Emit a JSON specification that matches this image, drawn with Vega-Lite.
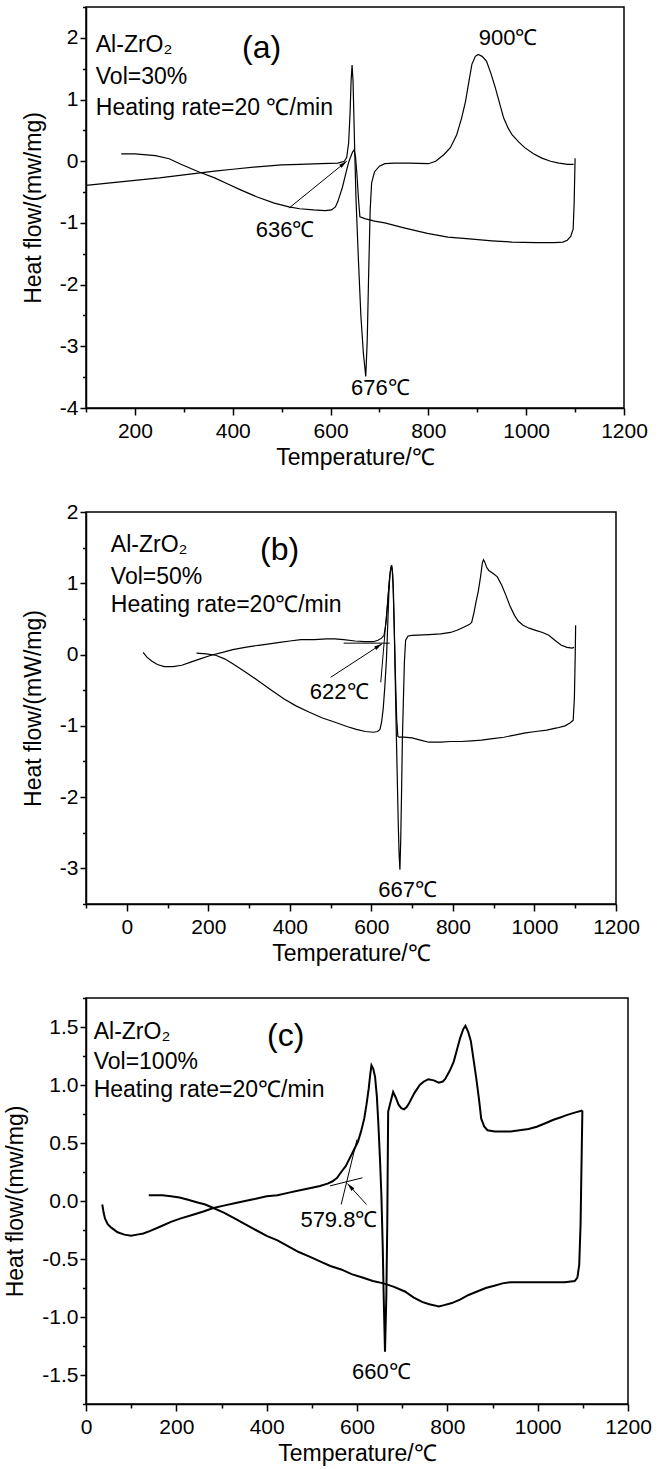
{
  "$schema": "https://vega.github.io/schema/vega-lite/v6.json",
  "background": "white",
  "padding": {"left": 4, "top": 5, "right": 5, "bottom": 0},
  "spacing": 30,
  "config": {
    "font": "Liberation Sans",
    "view": {"stroke": "black", "strokeWidth": 1.5},
    "axis": {
      "grid": false, "domainColor": "black", "domainWidth": 1.5, "tickColor": "black", "tickWidth": 1.5,
      "labelFont": "Liberation Sans", "labelFontSize": 21, "labelColor": "black", "labelFlush": false, "labelOverlap": false,
      "titleFont": "Liberation Sans", "titleFontSize": 23, "titleFontWeight": "normal", "titleColor": "black"
    },
    "text": {"font": "Liberation Sans", "color": "black"}
  },
  "datasets": {
    "a_curves": [
      {"s":"B","i":0,"x":100,"y":-0.39},{"s":"B","i":1,"x":150,"y":-0.35},{"s":"B","i":2,"x":200,"y":-0.31},{"s":"B","i":3,"x":250,"y":-0.27},{"s":"B","i":4,"x":300,"y":-0.22},{"s":"B","i":5,"x":363,"y":-0.16},{"s":"B","i":6,"x":400,"y":-0.13},{"s":"B","i":7,"x":450,"y":-0.09},{"s":"B","i":8,"x":500,"y":-0.06},{"s":"B","i":9,"x":537,"y":-0.05},{"s":"B","i":10,"x":580,"y":-0.04},{"s":"B","i":11,"x":615,"y":-0.03},{"s":"B","i":12,"x":628,"y":0.0},{"s":"B","i":13,"x":633,"y":0.06},{"s":"B","i":14,"x":637,"y":0.3},{"s":"B","i":15,"x":640,"y":0.8},{"s":"B","i":16,"x":642,"y":1.3},{"s":"B","i":17,"x":644,"y":1.56},{"s":"B","i":18,"x":646,"y":1.3},{"s":"B","i":19,"x":649,"y":0.3},{"s":"B","i":20,"x":652,"y":-0.6},{"s":"B","i":21,"x":657,"y":-1.6},{"s":"B","i":22,"x":662,"y":-2.5},{"s":"B","i":23,"x":667,"y":-3.1},{"s":"B","i":24,"x":672,"y":-3.49},{"s":"B","i":25,"x":675,"y":-2.9},{"s":"B","i":26,"x":678,"y":-1.8},{"s":"B","i":27,"x":681,"y":-0.8},{"s":"B","i":28,"x":684,"y":-0.35},{"s":"B","i":29,"x":690,"y":-0.17},{"s":"B","i":30,"x":700,"y":-0.08},{"s":"B","i":31,"x":711,"y":-0.04},{"s":"B","i":32,"x":730,"y":-0.03},{"s":"B","i":33,"x":760,"y":-0.03},{"s":"B","i":34,"x":800,"y":-0.04},{"s":"B","i":35,"x":815,"y":0.0},{"s":"B","i":36,"x":832,"y":0.11},{"s":"B","i":37,"x":845,"y":0.22},{"s":"B","i":38,"x":858,"y":0.43},{"s":"B","i":39,"x":868,"y":0.7},{"s":"B","i":40,"x":876,"y":0.97},{"s":"B","i":41,"x":883,"y":1.3},{"s":"B","i":42,"x":889,"y":1.57},{"s":"B","i":43,"x":896,"y":1.7},{"s":"B","i":44,"x":902,"y":1.73},{"s":"B","i":45,"x":910,"y":1.7},{"s":"B","i":46,"x":919,"y":1.62},{"s":"B","i":47,"x":928,"y":1.42},{"s":"B","i":48,"x":937,"y":1.19},{"s":"B","i":49,"x":946,"y":0.93},{"s":"B","i":50,"x":954,"y":0.7},{"s":"B","i":51,"x":963,"y":0.54},{"s":"B","i":52,"x":971,"y":0.43},{"s":"B","i":53,"x":985,"y":0.31},{"s":"B","i":54,"x":997,"y":0.22},{"s":"B","i":55,"x":1015,"y":0.12},{"s":"B","i":56,"x":1032,"y":0.05},{"s":"B","i":57,"x":1050,"y":0.0},{"s":"B","i":58,"x":1067,"y":-0.03},{"s":"B","i":59,"x":1085,"y":-0.05},{"s":"B","i":60,"x":1097,"y":-0.05},
      {"s":"A","i":0,"x":172,"y":0.12},{"s":"A","i":1,"x":200,"y":0.12},{"s":"A","i":2,"x":242,"y":0.09},{"s":"A","i":3,"x":270,"y":0.04},{"s":"A","i":4,"x":294,"y":-0.05},{"s":"A","i":5,"x":330,"y":-0.17},{"s":"A","i":6,"x":363,"y":-0.27},{"s":"A","i":7,"x":390,"y":-0.37},{"s":"A","i":8,"x":415,"y":-0.46},{"s":"A","i":9,"x":450,"y":-0.58},{"s":"A","i":10,"x":485,"y":-0.68},{"s":"A","i":11,"x":515,"y":-0.74},{"s":"A","i":12,"x":537,"y":-0.77},{"s":"A","i":13,"x":565,"y":-0.79},{"s":"A","i":14,"x":589,"y":-0.8},{"s":"A","i":15,"x":602,"y":-0.79},{"s":"A","i":16,"x":610,"y":-0.74},{"s":"A","i":17,"x":615,"y":-0.65},{"s":"A","i":18,"x":620,"y":-0.53},{"s":"A","i":19,"x":624,"y":-0.43},{"s":"A","i":20,"x":629,"y":-0.27},{"s":"A","i":21,"x":633,"y":-0.14},{"s":"A","i":22,"x":637,"y":-0.02},{"s":"A","i":23,"x":641,"y":0.07},{"s":"A","i":24,"x":645,"y":0.15},{"s":"A","i":25,"x":648,"y":0.18},{"s":"A","i":26,"x":651,"y":0.08},{"s":"A","i":27,"x":654,"y":-0.22},{"s":"A","i":28,"x":657,"y":-0.6},{"s":"A","i":29,"x":660,"y":-0.9},{"s":"A","i":30,"x":670,"y":-0.93},{"s":"A","i":31,"x":690,"y":-0.97},{"s":"A","i":32,"x":711,"y":-1.0},{"s":"A","i":33,"x":750,"y":-1.08},{"s":"A","i":34,"x":798,"y":-1.17},{"s":"A","i":35,"x":840,"y":-1.23},{"s":"A","i":36,"x":884,"y":-1.26},{"s":"A","i":37,"x":930,"y":-1.29},{"s":"A","i":38,"x":971,"y":-1.31},{"s":"A","i":39,"x":1020,"y":-1.32},{"s":"A","i":40,"x":1058,"y":-1.32},{"s":"A","i":41,"x":1075,"y":-1.31},{"s":"A","i":42,"x":1084,"y":-1.28},{"s":"A","i":43,"x":1091,"y":-1.22},{"s":"A","i":44,"x":1096,"y":-1.1},{"s":"A","i":45,"x":1098,"y":-0.7},{"s":"A","i":46,"x":1100,"y":0.05}
    ],
    "b_curves": [
      {"s":"B1","i":0,"x":40,"y":0.03},{"s":"B1","i":1,"x":50,"y":-0.04},{"s":"B1","i":2,"x":61,"y":-0.09},{"s":"B1","i":3,"x":75,"y":-0.14},{"s":"B1","i":4,"x":92,"y":-0.17},{"s":"B1","i":5,"x":113,"y":-0.17},{"s":"B1","i":6,"x":135,"y":-0.15},{"s":"B1","i":7,"x":155,"y":-0.11},{"s":"B1","i":8,"x":180,"y":-0.06},{"s":"B1","i":9,"x":207,"y":-0.01},{"s":"B1","i":10,"x":235,"y":0.03},{"s":"B1","i":11,"x":260,"y":0.07},{"s":"B1","i":12,"x":290,"y":0.1},{"s":"B1","i":13,"x":323,"y":0.13},{"s":"B1","i":14,"x":350,"y":0.15},{"s":"B1","i":15,"x":375,"y":0.17},{"s":"B1","i":16,"x":400,"y":0.19},{"s":"B1","i":17,"x":427,"y":0.21},{"s":"B1","i":18,"x":460,"y":0.21},{"s":"B1","i":19,"x":490,"y":0.22},{"s":"B1","i":20,"x":510,"y":0.22},{"s":"B1","i":21,"x":532,"y":0.21},{"s":"B1","i":22,"x":560,"y":0.19},{"s":"B1","i":23,"x":584,"y":0.18},{"s":"B1","i":24,"x":605,"y":0.18},{"s":"B1","i":25,"x":616,"y":0.2},{"s":"B1","i":26,"x":625,"y":0.23},{"s":"B1","i":27,"x":631,"y":0.27},{"s":"B1","i":28,"x":636,"y":0.45},{"s":"B1","i":29,"x":639,"y":0.65},{"s":"B1","i":30,"x":642,"y":0.88},{"s":"B1","i":31,"x":645,"y":1.1},{"s":"B1","i":32,"x":648,"y":1.22},{"s":"B1","i":33,"x":650,"y":1.24},{"s":"B1","i":34,"x":652,"y":1.15},{"s":"B1","i":35,"x":654,"y":0.9},{"s":"B1","i":36,"x":656,"y":0.4},{"s":"B1","i":37,"x":658,"y":-0.2},{"s":"B1","i":38,"x":660,"y":-0.8},{"s":"B1","i":39,"x":663,"y":-1.6},{"s":"B1","i":40,"x":666,"y":-2.4},{"s":"B1","i":41,"x":668,"y":-2.8},{"s":"B1","i":42,"x":670,"y":-3.02},{"s":"B1","i":43,"x":672,"y":-2.6},{"s":"B1","i":44,"x":674,"y":-1.94},{"s":"B1","i":45,"x":676,"y":-1.2},{"s":"B1","i":46,"x":679,"y":-0.53},{"s":"B1","i":47,"x":681,"y":-0.1},{"s":"B1","i":48,"x":684,"y":0.2},{"s":"B1","i":49,"x":690,"y":0.26},{"s":"B1","i":50,"x":700,"y":0.27},{"s":"B1","i":51,"x":741,"y":0.28},{"s":"B1","i":52,"x":770,"y":0.29},{"s":"B1","i":53,"x":794,"y":0.31},{"s":"B1","i":54,"x":810,"y":0.34},{"s":"B1","i":55,"x":825,"y":0.38},{"s":"B1","i":56,"x":840,"y":0.42},{"s":"B1","i":57,"x":846,"y":0.45},{"s":"B1","i":58,"x":852,"y":0.6},{"s":"B1","i":59,"x":857,"y":0.75},{"s":"B1","i":60,"x":862,"y":0.88},{"s":"B1","i":61,"x":868,"y":1.1},{"s":"B1","i":62,"x":872,"y":1.28},{"s":"B1","i":63,"x":875,"y":1.33},{"s":"B1","i":64,"x":878,"y":1.3},{"s":"B1","i":65,"x":883,"y":1.22},{"s":"B1","i":66,"x":888,"y":1.18},{"s":"B1","i":67,"x":898,"y":1.14},{"s":"B1","i":68,"x":909,"y":1.09},{"s":"B1","i":69,"x":920,"y":0.97},{"s":"B1","i":70,"x":930,"y":0.83},{"s":"B1","i":71,"x":940,"y":0.68},{"s":"B1","i":72,"x":951,"y":0.55},{"s":"B1","i":73,"x":960,"y":0.47},{"s":"B1","i":74,"x":972,"y":0.41},{"s":"B1","i":75,"x":987,"y":0.37},{"s":"B1","i":76,"x":1003,"y":0.34},{"s":"B1","i":77,"x":1020,"y":0.31},{"s":"B1","i":78,"x":1035,"y":0.27},{"s":"B1","i":79,"x":1050,"y":0.2},{"s":"B1","i":80,"x":1066,"y":0.13},{"s":"B1","i":81,"x":1080,"y":0.1},{"s":"B1","i":82,"x":1092,"y":0.09},{"s":"B1","i":83,"x":1097,"y":0.1},
      {"s":"B2","i":0,"x":171,"y":0.02},{"s":"B2","i":1,"x":195,"y":0.01},{"s":"B2","i":2,"x":218,"y":-0.01},{"s":"B2","i":3,"x":240,"y":-0.06},{"s":"B2","i":4,"x":260,"y":-0.13},{"s":"B2","i":5,"x":290,"y":-0.24},{"s":"B2","i":6,"x":323,"y":-0.37},{"s":"B2","i":7,"x":355,"y":-0.5},{"s":"B2","i":8,"x":385,"y":-0.62},{"s":"B2","i":9,"x":415,"y":-0.72},{"s":"B2","i":10,"x":448,"y":-0.81},{"s":"B2","i":11,"x":480,"y":-0.89},{"s":"B2","i":12,"x":511,"y":-0.95},{"s":"B2","i":13,"x":540,"y":-1.01},{"s":"B2","i":14,"x":563,"y":-1.05},{"s":"B2","i":15,"x":585,"y":-1.08},{"s":"B2","i":16,"x":605,"y":-1.09},{"s":"B2","i":17,"x":615,"y":-1.08},{"s":"B2","i":18,"x":621,"y":-1.05},{"s":"B2","i":19,"x":625,"y":-0.95},{"s":"B2","i":20,"x":629,"y":-0.76},{"s":"B2","i":21,"x":633,"y":-0.45},{"s":"B2","i":22,"x":637,"y":-0.06},{"s":"B2","i":23,"x":640,"y":0.4},{"s":"B2","i":24,"x":643,"y":0.88},{"s":"B2","i":25,"x":646,"y":1.15},{"s":"B2","i":26,"x":649,"y":1.25},{"s":"B2","i":27,"x":651,"y":1.2},{"s":"B2","i":28,"x":653,"y":1.0},{"s":"B2","i":29,"x":656,"y":0.4},{"s":"B2","i":30,"x":659,"y":-0.3},{"s":"B2","i":31,"x":662,"y":-0.9},{"s":"B2","i":32,"x":665,"y":-1.15},{"s":"B2","i":33,"x":668,"y":-1.16},{"s":"B2","i":34,"x":680,"y":-1.16},{"s":"B2","i":35,"x":700,"y":-1.17},{"s":"B2","i":36,"x":720,"y":-1.2},{"s":"B2","i":37,"x":741,"y":-1.23},{"s":"B2","i":38,"x":770,"y":-1.23},{"s":"B2","i":39,"x":794,"y":-1.22},{"s":"B2","i":40,"x":820,"y":-1.22},{"s":"B2","i":41,"x":846,"y":-1.21},{"s":"B2","i":42,"x":870,"y":-1.2},{"s":"B2","i":43,"x":898,"y":-1.18},{"s":"B2","i":44,"x":925,"y":-1.16},{"s":"B2","i":45,"x":951,"y":-1.13},{"s":"B2","i":46,"x":978,"y":-1.1},{"s":"B2","i":47,"x":1003,"y":-1.08},{"s":"B2","i":48,"x":1030,"y":-1.06},{"s":"B2","i":49,"x":1055,"y":-1.03},{"s":"B2","i":50,"x":1075,"y":-1.0},{"s":"B2","i":51,"x":1087,"y":-0.96},{"s":"B2","i":52,"x":1095,"y":-0.92},{"s":"B2","i":53,"x":1098,"y":-0.6},{"s":"B2","i":54,"x":1100,"y":0.0},{"s":"B2","i":55,"x":1101,"y":0.41}
    ],
    "c_curves": [
      {"s":"C1","i":0,"x":36,"y":-0.03},{"s":"C1","i":1,"x":39,"y":-0.1},{"s":"C1","i":2,"x":42,"y":-0.15},{"s":"C1","i":3,"x":48,"y":-0.2},{"s":"C1","i":4,"x":56,"y":-0.23},{"s":"C1","i":5,"x":70,"y":-0.27},{"s":"C1","i":6,"x":85,"y":-0.29},{"s":"C1","i":7,"x":100,"y":-0.3},{"s":"C1","i":8,"x":113,"y":-0.29},{"s":"C1","i":9,"x":127,"y":-0.28},{"s":"C1","i":10,"x":141,"y":-0.26},{"s":"C1","i":11,"x":165,"y":-0.22},{"s":"C1","i":12,"x":188,"y":-0.18},{"s":"C1","i":13,"x":210,"y":-0.15},{"s":"C1","i":14,"x":235,"y":-0.12},{"s":"C1","i":15,"x":260,"y":-0.09},{"s":"C1","i":16,"x":282,"y":-0.06},{"s":"C1","i":17,"x":305,"y":-0.04},{"s":"C1","i":18,"x":329,"y":-0.02},{"s":"C1","i":19,"x":352,"y":0.0},{"s":"C1","i":20,"x":376,"y":0.02},{"s":"C1","i":21,"x":400,"y":0.04},{"s":"C1","i":22,"x":424,"y":0.05},{"s":"C1","i":23,"x":447,"y":0.07},{"s":"C1","i":24,"x":471,"y":0.09},{"s":"C1","i":25,"x":495,"y":0.11},{"s":"C1","i":26,"x":518,"y":0.13},{"s":"C1","i":27,"x":535,"y":0.15},{"s":"C1","i":28,"x":546,"y":0.17},{"s":"C1","i":29,"x":556,"y":0.2},{"s":"C1","i":30,"x":565,"y":0.25},{"s":"C1","i":31,"x":575,"y":0.3},{"s":"C1","i":32,"x":584,"y":0.37},{"s":"C1","i":33,"x":593,"y":0.44},{"s":"C1","i":34,"x":602,"y":0.51},{"s":"C1","i":35,"x":609,"y":0.6},{"s":"C1","i":36,"x":616,"y":0.71},{"s":"C1","i":37,"x":621,"y":0.83},{"s":"C1","i":38,"x":626,"y":0.97},{"s":"C1","i":39,"x":629,"y":1.08},{"s":"C1","i":40,"x":632,"y":1.17},{"s":"C1","i":41,"x":636,"y":1.14},{"s":"C1","i":42,"x":640,"y":1.07},{"s":"C1","i":43,"x":644,"y":0.9},{"s":"C1","i":44,"x":647,"y":0.69},{"s":"C1","i":45,"x":651,"y":0.35},{"s":"C1","i":46,"x":654,"y":0.05},{"s":"C1","i":47,"x":657,"y":-0.4},{"s":"C1","i":48,"x":659,"y":-0.81},{"s":"C1","i":49,"x":662,"y":-1.3},{"s":"C1","i":50,"x":665,"y":-0.81},{"s":"C1","i":51,"x":667,"y":-0.2},{"s":"C1","i":52,"x":668,"y":0.3},{"s":"C1","i":53,"x":669,"y":0.77},{"s":"C1","i":54,"x":674,"y":0.85},{"s":"C1","i":55,"x":680,"y":0.94},{"s":"C1","i":56,"x":686,"y":0.89},{"s":"C1","i":57,"x":692,"y":0.83},{"s":"C1","i":58,"x":698,"y":0.8},{"s":"C1","i":59,"x":704,"y":0.79},{"s":"C1","i":60,"x":710,"y":0.81},{"s":"C1","i":61,"x":715,"y":0.84},{"s":"C1","i":62,"x":727,"y":0.93},{"s":"C1","i":63,"x":739,"y":1.0},{"s":"C1","i":64,"x":748,"y":1.03},{"s":"C1","i":65,"x":758,"y":1.05},{"s":"C1","i":66,"x":770,"y":1.04},{"s":"C1","i":67,"x":781,"y":1.02},{"s":"C1","i":68,"x":790,"y":1.03},{"s":"C1","i":69,"x":795,"y":1.05},{"s":"C1","i":70,"x":805,"y":1.12},{"s":"C1","i":71,"x":814,"y":1.2},{"s":"C1","i":72,"x":821,"y":1.3},{"s":"C1","i":73,"x":828,"y":1.4},{"s":"C1","i":74,"x":835,"y":1.48},{"s":"C1","i":75,"x":840,"y":1.51},{"s":"C1","i":76,"x":846,"y":1.46},{"s":"C1","i":77,"x":852,"y":1.38},{"s":"C1","i":78,"x":858,"y":1.22},{"s":"C1","i":79,"x":864,"y":1.06},{"s":"C1","i":80,"x":870,"y":0.88},{"s":"C1","i":81,"x":875,"y":0.71},{"s":"C1","i":82,"x":882,"y":0.64},{"s":"C1","i":83,"x":889,"y":0.61},{"s":"C1","i":84,"x":905,"y":0.6},{"s":"C1","i":85,"x":922,"y":0.6},{"s":"C1","i":86,"x":940,"y":0.6},{"s":"C1","i":87,"x":960,"y":0.61},{"s":"C1","i":88,"x":980,"y":0.62},{"s":"C1","i":89,"x":998,"y":0.64},{"s":"C1","i":90,"x":1017,"y":0.67},{"s":"C1","i":91,"x":1035,"y":0.7},{"s":"C1","i":92,"x":1050,"y":0.72},{"s":"C1","i":93,"x":1064,"y":0.74},{"s":"C1","i":94,"x":1080,"y":0.76},{"s":"C1","i":95,"x":1099,"y":0.78},
      {"s":"C2","i":0,"x":139,"y":0.05},{"s":"C2","i":1,"x":169,"y":0.05},{"s":"C2","i":2,"x":188,"y":0.04},{"s":"C2","i":3,"x":207,"y":0.03},{"s":"C2","i":4,"x":226,"y":0.01},{"s":"C2","i":5,"x":245,"y":-0.01},{"s":"C2","i":6,"x":264,"y":-0.03},{"s":"C2","i":7,"x":282,"y":-0.06},{"s":"C2","i":8,"x":305,"y":-0.1},{"s":"C2","i":9,"x":329,"y":-0.15},{"s":"C2","i":10,"x":352,"y":-0.2},{"s":"C2","i":11,"x":376,"y":-0.25},{"s":"C2","i":12,"x":400,"y":-0.3},{"s":"C2","i":13,"x":424,"y":-0.34},{"s":"C2","i":14,"x":447,"y":-0.39},{"s":"C2","i":15,"x":471,"y":-0.44},{"s":"C2","i":16,"x":495,"y":-0.48},{"s":"C2","i":17,"x":518,"y":-0.52},{"s":"C2","i":18,"x":541,"y":-0.56},{"s":"C2","i":19,"x":565,"y":-0.59},{"s":"C2","i":20,"x":588,"y":-0.63},{"s":"C2","i":21,"x":612,"y":-0.66},{"s":"C2","i":22,"x":635,"y":-0.69},{"s":"C2","i":23,"x":659,"y":-0.71},{"s":"C2","i":24,"x":682,"y":-0.74},{"s":"C2","i":25,"x":706,"y":-0.78},{"s":"C2","i":26,"x":725,"y":-0.83},{"s":"C2","i":27,"x":744,"y":-0.87},{"s":"C2","i":28,"x":760,"y":-0.89},{"s":"C2","i":29,"x":772,"y":-0.9},{"s":"C2","i":30,"x":781,"y":-0.91},{"s":"C2","i":31,"x":791,"y":-0.9},{"s":"C2","i":32,"x":810,"y":-0.88},{"s":"C2","i":33,"x":828,"y":-0.85},{"s":"C2","i":34,"x":847,"y":-0.81},{"s":"C2","i":35,"x":866,"y":-0.78},{"s":"C2","i":36,"x":885,"y":-0.75},{"s":"C2","i":37,"x":904,"y":-0.73},{"s":"C2","i":38,"x":922,"y":-0.71},{"s":"C2","i":39,"x":941,"y":-0.7},{"s":"C2","i":40,"x":965,"y":-0.7},{"s":"C2","i":41,"x":988,"y":-0.7},{"s":"C2","i":42,"x":1012,"y":-0.7},{"s":"C2","i":43,"x":1035,"y":-0.7},{"s":"C2","i":44,"x":1060,"y":-0.7},{"s":"C2","i":45,"x":1082,"y":-0.69},{"s":"C2","i":46,"x":1088,"y":-0.66},{"s":"C2","i":47,"x":1092,"y":-0.55},{"s":"C2","i":48,"x":1095,"y":-0.2},{"s":"C2","i":49,"x":1097,"y":0.3},{"s":"C2","i":50,"x":1099,"y":0.78}
    ]
  },
  "vconcat": [
    {
      "width": 538, "height": 401,
      "resolve": {"axis": {"x": "independent", "y": "independent"}},
      "layer": [
        {
          "data": {"name": "a_curves"},
          "mark": {"type": "line", "color": "black", "strokeWidth": 1.2},
          "encoding": {
            "x": {"field": "x", "type": "quantitative", "scale": {"domain": [100, 1200], "nice": false, "zero": false},
                  "axis": {"orient": "bottom", "values": [200, 400, 600, 800, 1000, 1200], "format": "d", "title": "Temperature/℃", "tickSize": 7, "labelPadding": 5, "titlePadding": 5}},
            "y": {"field": "y", "type": "quantitative", "scale": {"domain": [-4, 2.5], "nice": false, "zero": false},
                  "axis": {"orient": "left", "values": [-4, -3, -2, -1, 0, 1, 2], "title": "Heat flow/(mw/mg)", "tickSize": 6, "labelPadding": 2, "titlePadding": 14,
                           "labelExpr": "datum.value < 0 ? '-' + format(-datum.value, 'd') : format(datum.value, 'd')"}},
            "detail": {"field": "s"},
            "order": {"field": "i", "type": "quantitative"}
          }
        },
        {
          "data": {"values": [{"x": 515, "y": -0.76, "x2": 633, "y2": 0.0}]},
          "mark": {"type": "rule", "color": "black", "strokeWidth": 1},
          "encoding": {
            "x": {"field": "x", "type": "quantitative", "axis": {"orient": "bottom", "values": [100, 300, 500, 700, 900, 1100], "labels": false, "title": null, "tickSize": 4, "domain": false}},
            "y": {"field": "y", "type": "quantitative", "axis": {"orient": "left", "values": [-3.5, -2.5, -1.5, -0.5, 0.5, 1.5, 2.5], "labels": false, "title": null, "tickSize": 3.5, "domain": false}},
            "x2": {"field": "x2"}, "y2": {"field": "y2"}
          }
        },
        {
          "data": {"values": [{"x": 633, "y": 0.0}]},
          "mark": {"type": "point", "filled": true, "color": "black", "opacity": 1, "shape": "M0,0L-0.45,1.8L0.45,1.8Z", "angle": 51, "size": 80},
          "encoding": {"x": {"field": "x", "type": "quantitative", "axis": null}, "y": {"field": "y", "type": "quantitative", "axis": null}}
        },
        {
          "data": {"values": [{"x": 120, "y": 1.89, "t": "Al-ZrO₂"}, {"x": 120, "y": 1.36, "t": "Vol=30%"}, {"x": 120, "y": 0.86, "t": "Heating rate=20 ℃/min"}]},
          "mark": {"type": "text", "align": "left", "baseline": "middle", "fontSize": 23},
          "encoding": {"x": {"field": "x", "type": "quantitative", "axis": null}, "y": {"field": "y", "type": "quantitative", "axis": null}, "text": {"field": "t"}}
        },
        {
          "data": {"values": [{"x": 507, "y": -1.11, "t": "636℃"}, {"x": 702, "y": -3.68, "t": "676℃"}, {"x": 963, "y": 2.0, "t": "900℃"}]},
          "mark": {"type": "text", "align": "center", "baseline": "middle", "fontSize": 22},
          "encoding": {"x": {"field": "x", "type": "quantitative", "axis": null}, "y": {"field": "y", "type": "quantitative", "axis": null}, "text": {"field": "t"}}
        },
        {
          "data": {"values": [{"x": 459, "y": 1.84, "t": "(a)"}]},
          "mark": {"type": "text", "align": "center", "baseline": "middle", "fontSize": 32},
          "encoding": {"x": {"field": "x", "type": "quantitative", "axis": null}, "y": {"field": "y", "type": "quantitative", "axis": null}, "text": {"field": "t"}}
        }
      ]
    },
    {
      "width": 530, "height": 392,
      "resolve": {"axis": {"x": "independent", "y": "independent"}},
      "layer": [
        {
          "data": {"name": "b_curves"},
          "mark": {"type": "line", "color": "black", "strokeWidth": 1.2},
          "encoding": {
            "x": {"field": "x", "type": "quantitative", "scale": {"domain": [-100, 1200], "nice": false, "zero": false},
                  "axis": {"orient": "bottom", "values": [0, 200, 400, 600, 800, 1000, 1200], "format": "d", "title": "Temperature/℃", "tickSize": 7, "labelPadding": 5, "titlePadding": 5}},
            "y": {"field": "y", "type": "quantitative", "scale": {"domain": [-3.5, 2], "nice": false, "zero": false},
                  "axis": {"orient": "left", "values": [-3, -2, -1, 0, 1, 2], "title": "Heat flow/(mW/mg)", "tickSize": 6, "labelPadding": 2, "titlePadding": 14,
                           "labelExpr": "datum.value < 0 ? '-' + format(-datum.value, 'd') : format(datum.value, 'd')"}},
            "detail": {"field": "s"},
            "order": {"field": "i", "type": "quantitative"}
          }
        },
        {
          "data": {"values": [{"x": 500, "y": -0.32, "x2": 626, "y2": 0.15}, {"x": 532, "y": 0.16, "x2": 645, "y2": 0.16}, {"x": 623, "y": -0.39, "x2": 645, "y2": 1.1}]},
          "mark": {"type": "rule", "color": "black", "strokeWidth": 1},
          "encoding": {
            "x": {"field": "x", "type": "quantitative", "axis": {"orient": "bottom", "values": [-100, 100, 300, 500, 700, 900, 1100], "labels": false, "title": null, "tickSize": 4, "domain": false}},
            "y": {"field": "y", "type": "quantitative", "axis": {"orient": "left", "values": [-3.5, -2.5, -1.5, -0.5, 0.5, 1.5], "labels": false, "title": null, "tickSize": 3.5, "domain": false}},
            "x2": {"field": "x2"}, "y2": {"field": "y2"}
          }
        },
        {
          "data": {"values": [{"x": 626, "y": 0.15}]},
          "mark": {"type": "point", "filled": true, "color": "black", "opacity": 1, "shape": "M0,0L-0.45,1.8L0.45,1.8Z", "angle": 57, "size": 80},
          "encoding": {"x": {"field": "x", "type": "quantitative", "axis": null}, "y": {"field": "y", "type": "quantitative", "axis": null}}
        },
        {
          "data": {"values": [{"x": -39, "y": 1.53, "t": "Al-ZrO₂"}, {"x": -39, "y": 1.09, "t": "Vol=50%"}, {"x": -39, "y": 0.69, "t": "Heating rate=20℃/min"}]},
          "mark": {"type": "text", "align": "left", "baseline": "middle", "fontSize": 23},
          "encoding": {"x": {"field": "x", "type": "quantitative", "axis": null}, "y": {"field": "y", "type": "quantitative", "axis": null}, "text": {"field": "t"}}
        },
        {
          "data": {"values": [{"x": 521, "y": -0.53, "t": "622℃"}, {"x": 689, "y": -3.3, "t": "667℃"}]},
          "mark": {"type": "text", "align": "center", "baseline": "middle", "fontSize": 22},
          "encoding": {"x": {"field": "x", "type": "quantitative", "axis": null}, "y": {"field": "y", "type": "quantitative", "axis": null}, "text": {"field": "t"}}
        },
        {
          "data": {"values": [{"x": 375, "y": 1.46, "t": "(b)"}]},
          "mark": {"type": "text", "align": "center", "baseline": "middle", "fontSize": 32},
          "encoding": {"x": {"field": "x", "type": "quantitative", "axis": null}, "y": {"field": "y", "type": "quantitative", "axis": null}, "text": {"field": "t"}}
        }
      ]
    },
    {
      "width": 542, "height": 406,
      "resolve": {"axis": {"x": "independent", "y": "independent"}},
      "layer": [
        {
          "data": {"name": "c_curves"},
          "mark": {"type": "line", "color": "black", "strokeWidth": 2},
          "encoding": {
            "x": {"field": "x", "type": "quantitative", "scale": {"domain": [0, 1200], "nice": false, "zero": false},
                  "axis": {"orient": "bottom", "values": [0, 200, 400, 600, 800, 1000, 1200], "format": "d", "title": "Temperature/℃", "tickSize": 7, "labelPadding": 5, "titlePadding": 5}},
            "y": {"field": "y", "type": "quantitative", "scale": {"domain": [-1.75, 1.75], "nice": false, "zero": false},
                  "axis": {"orient": "left", "values": [-1.5, -1, -0.5, 0, 0.5, 1, 1.5], "title": "Heat flow/(mw/mg)", "tickSize": 6, "labelPadding": 2, "titlePadding": 14,
                           "labelExpr": "datum.value < 0 ? '-' + format(-datum.value, '.1f') : format(datum.value, '.1f')"}},
            "detail": {"field": "s"},
            "order": {"field": "i", "type": "quantitative"}
          }
        },
        {
          "data": {"values": [{"x": 621, "y": -0.03, "x2": 579, "y2": 0.15}, {"x": 540, "y": 0.13, "x2": 612, "y2": 0.2}, {"x": 565, "y": -0.03, "x2": 600, "y2": 0.53}]},
          "mark": {"type": "rule", "color": "black", "strokeWidth": 1},
          "encoding": {
            "x": {"field": "x", "type": "quantitative", "axis": {"orient": "bottom", "values": [100, 300, 500, 700, 900, 1100], "labels": false, "title": null, "tickSize": 4, "domain": false}},
            "y": {"field": "y", "type": "quantitative", "axis": {"orient": "left", "values": [-1.75, -1.25, -0.75, -0.25, 0.25, 0.75, 1.25, 1.75], "labels": false, "title": null, "tickSize": 3.5, "domain": false}},
            "x2": {"field": "x2"}, "y2": {"field": "y2"}
          }
        },
        {
          "data": {"values": [{"x": 579, "y": 0.15}]},
          "mark": {"type": "point", "filled": true, "color": "black", "opacity": 1, "shape": "M0,0L-0.45,1.8L0.45,1.8Z", "angle": 318, "size": 80},
          "encoding": {"x": {"field": "x", "type": "quantitative", "axis": null}, "y": {"field": "y", "type": "quantitative", "axis": null}}
        },
        {
          "data": {"values": [{"x": 17, "y": 1.46, "t": "Al-ZrO₂"}, {"x": 17, "y": 1.2, "t": "Vol=100%"}, {"x": 17, "y": 0.96, "t": "Heating rate=20℃/min"}]},
          "mark": {"type": "text", "align": "left", "baseline": "middle", "fontSize": 23},
          "encoding": {"x": {"field": "x", "type": "quantitative", "axis": null}, "y": {"field": "y", "type": "quantitative", "axis": null}, "text": {"field": "t"}}
        },
        {
          "data": {"values": [{"x": 560, "y": -0.16, "t": "579.8℃"}, {"x": 654, "y": -1.47, "t": "660℃"}]},
          "mark": {"type": "text", "align": "center", "baseline": "middle", "fontSize": 22},
          "encoding": {"x": {"field": "x", "type": "quantitative", "axis": null}, "y": {"field": "y", "type": "quantitative", "axis": null}, "text": {"field": "t"}}
        },
        {
          "data": {"values": [{"x": 442, "y": 1.42, "t": "(c)"}]},
          "mark": {"type": "text", "align": "center", "baseline": "middle", "fontSize": 32},
          "encoding": {"x": {"field": "x", "type": "quantitative", "axis": null}, "y": {"field": "y", "type": "quantitative", "axis": null}, "text": {"field": "t"}}
        }
      ]
    }
  ]
}
